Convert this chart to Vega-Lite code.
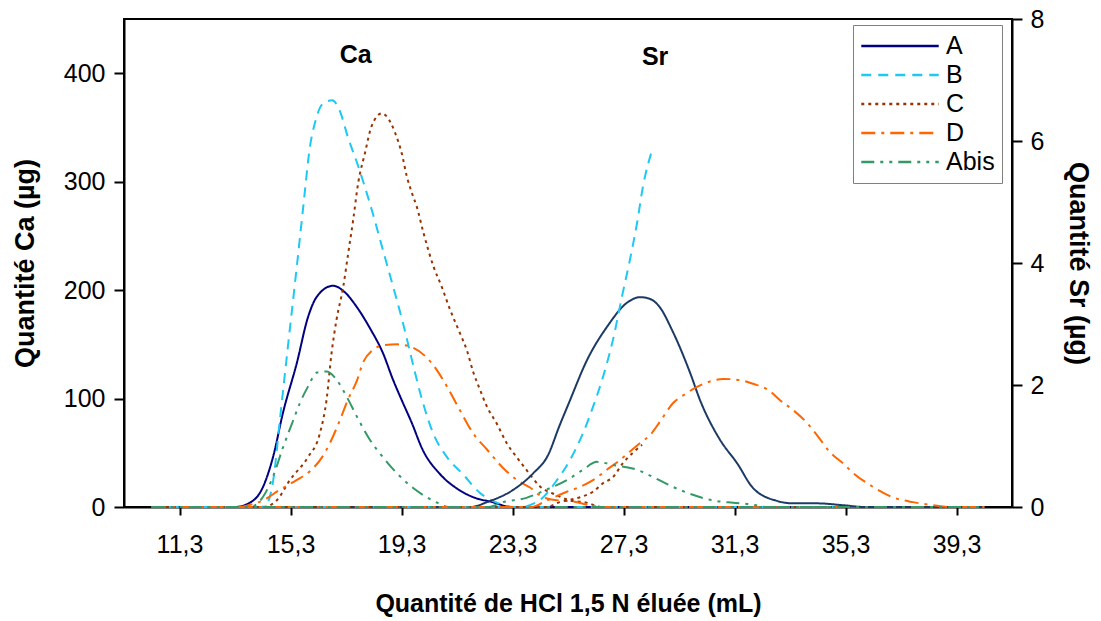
{
  "$schema": "https://vega.github.io/schema/vega-lite/v6.json",
  "width": 888,
  "height": 488,
  "autosize": {"type": "none"},
  "padding": {"left": 124, "top": 19, "right": 89, "bottom": 114},
  "background": "white",
  "config": {
    "view": {"stroke": "#000", "strokeWidth": 2},
    "font": "Liberation Sans",
    "axis": {
      "labelFont": "Liberation Sans",
      "labelFontSize": 25,
      "labelColor": "#000",
      "titleColor": "#000",
      "titleFont": "Liberation Sans",
      "titleFontWeight": "bold",
      "tickColor": "#000",
      "tickWidth": 2,
      "domainColor": "#000",
      "domainWidth": 2,
      "grid": false
    }
  },
  "datasets": {
    "curves": [
      {"s": "A", "e": "Ca", "x": 10.3, "v": 0}, {"s": "A", "e": "Ca", "x": 13.3, "v": 0}, {"s": "A", "e": "Ca", "x": 13.84, "v": 4}, {"s": "A", "e": "Ca", "x": 14.3, "v": 18}, {"s": "A", "e": "Ca", "x": 14.67, "v": 46}, {"s": "A", "e": "Ca", "x": 15.03, "v": 87}, {"s": "A", "e": "Ca", "x": 15.53, "v": 133}, {"s": "A", "e": "Ca", "x": 15.93, "v": 175}, {"s": "A", "e": "Ca", "x": 16.25, "v": 194}, {"s": "A", "e": "Ca", "x": 16.83, "v": 204}, {"s": "A", "e": "Ca", "x": 17.26, "v": 198}, {"s": "A", "e": "Ca", "x": 17.7, "v": 184}, {"s": "A", "e": "Ca", "x": 18.16, "v": 165}, {"s": "A", "e": "Ca", "x": 18.63, "v": 142}, {"s": "A", "e": "Ca", "x": 19.0, "v": 117}, {"s": "A", "e": "Ca", "x": 19.3, "v": 99}, {"s": "A", "e": "Ca", "x": 19.68, "v": 77}, {"s": "A", "e": "Ca", "x": 20.04, "v": 54}, {"s": "A", "e": "Ca", "x": 20.7, "v": 30}, {"s": "A", "e": "Ca", "x": 21.3, "v": 17}, {"s": "A", "e": "Ca", "x": 22.0, "v": 8}, {"s": "A", "e": "Ca", "x": 22.5, "v": 5}, {"s": "A", "e": "Ca", "x": 23.3, "v": 0}, {"s": "A", "e": "Ca", "x": 40.3, "v": 0},
      {"s": "B", "e": "Ca", "x": 10.3, "v": 0}, {"s": "B", "e": "Ca", "x": 14.2, "v": 0}, {"s": "B", "e": "Ca", "x": 14.44, "v": 3}, {"s": "B", "e": "Ca", "x": 14.68, "v": 25}, {"s": "B", "e": "Ca", "x": 14.92, "v": 81}, {"s": "B", "e": "Ca", "x": 15.22, "v": 151}, {"s": "B", "e": "Ca", "x": 15.52, "v": 220}, {"s": "B", "e": "Ca", "x": 15.76, "v": 277}, {"s": "B", "e": "Ca", "x": 16.0, "v": 332}, {"s": "B", "e": "Ca", "x": 16.2, "v": 356}, {"s": "B", "e": "Ca", "x": 16.47, "v": 372}, {"s": "B", "e": "Ca", "x": 16.8, "v": 375}, {"s": "B", "e": "Ca", "x": 17.08, "v": 365}, {"s": "B", "e": "Ca", "x": 17.37, "v": 341}, {"s": "B", "e": "Ca", "x": 17.73, "v": 315}, {"s": "B", "e": "Ca", "x": 18.16, "v": 280}, {"s": "B", "e": "Ca", "x": 18.63, "v": 237}, {"s": "B", "e": "Ca", "x": 19.0, "v": 203}, {"s": "B", "e": "Ca", "x": 19.35, "v": 170}, {"s": "B", "e": "Ca", "x": 19.7, "v": 133}, {"s": "B", "e": "Ca", "x": 20.04, "v": 99}, {"s": "B", "e": "Ca", "x": 20.44, "v": 68}, {"s": "B", "e": "Ca", "x": 20.94, "v": 46}, {"s": "B", "e": "Ca", "x": 21.52, "v": 30}, {"s": "B", "e": "Ca", "x": 22.13, "v": 13}, {"s": "B", "e": "Ca", "x": 22.74, "v": 4}, {"s": "B", "e": "Ca", "x": 23.3, "v": 0}, {"s": "B", "e": "Ca", "x": 40.3, "v": 0},
      {"s": "C", "e": "Ca", "x": 10.3, "v": 0}, {"s": "C", "e": "Ca", "x": 14.3, "v": 0}, {"s": "C", "e": "Ca", "x": 14.8, "v": 6}, {"s": "C", "e": "Ca", "x": 15.28, "v": 25}, {"s": "C", "e": "Ca", "x": 15.93, "v": 46}, {"s": "C", "e": "Ca", "x": 16.36, "v": 68}, {"s": "C", "e": "Ca", "x": 16.6, "v": 99}, {"s": "C", "e": "Ca", "x": 16.78, "v": 142}, {"s": "C", "e": "Ca", "x": 16.96, "v": 173}, {"s": "C", "e": "Ca", "x": 17.2, "v": 203}, {"s": "C", "e": "Ca", "x": 17.38, "v": 234}, {"s": "C", "e": "Ca", "x": 17.56, "v": 265}, {"s": "C", "e": "Ca", "x": 17.74, "v": 299}, {"s": "C", "e": "Ca", "x": 17.98, "v": 326}, {"s": "C", "e": "Ca", "x": 18.22, "v": 351}, {"s": "C", "e": "Ca", "x": 18.59, "v": 363}, {"s": "C", "e": "Ca", "x": 18.77, "v": 360}, {"s": "C", "e": "Ca", "x": 19.07, "v": 345}, {"s": "C", "e": "Ca", "x": 19.31, "v": 326}, {"s": "C", "e": "Ca", "x": 19.49, "v": 305}, {"s": "C", "e": "Ca", "x": 19.67, "v": 290}, {"s": "C", "e": "Ca", "x": 19.85, "v": 277}, {"s": "C", "e": "Ca", "x": 20.09, "v": 253}, {"s": "C", "e": "Ca", "x": 20.45, "v": 222}, {"s": "C", "e": "Ca", "x": 20.75, "v": 203}, {"s": "C", "e": "Ca", "x": 21.05, "v": 182}, {"s": "C", "e": "Ca", "x": 21.41, "v": 160}, {"s": "C", "e": "Ca", "x": 21.65, "v": 145}, {"s": "C", "e": "Ca", "x": 21.89, "v": 124}, {"s": "C", "e": "Ca", "x": 22.13, "v": 108}, {"s": "C", "e": "Ca", "x": 22.37, "v": 93}, {"s": "C", "e": "Ca", "x": 22.73, "v": 77}, {"s": "C", "e": "Ca", "x": 23.09, "v": 59}, {"s": "C", "e": "Ca", "x": 23.45, "v": 46}, {"s": "C", "e": "Ca", "x": 23.81, "v": 34}, {"s": "C", "e": "Ca", "x": 24.29, "v": 19}, {"s": "C", "e": "Ca", "x": 24.89, "v": 11}, {"s": "C", "e": "Ca", "x": 25.37, "v": 6}, {"s": "C", "e": "Ca", "x": 25.97, "v": 4}, {"s": "C", "e": "Ca", "x": 26.5, "v": 0}, {"s": "C", "e": "Ca", "x": 40.3, "v": 0},
      {"s": "D", "e": "Ca", "x": 10.3, "v": 0}, {"s": "D", "e": "Ca", "x": 13.5, "v": 0}, {"s": "D", "e": "Ca", "x": 13.84, "v": 2}, {"s": "D", "e": "Ca", "x": 14.3, "v": 6}, {"s": "D", "e": "Ca", "x": 14.92, "v": 16}, {"s": "D", "e": "Ca", "x": 15.53, "v": 25}, {"s": "D", "e": "Ca", "x": 16.0, "v": 33}, {"s": "D", "e": "Ca", "x": 16.44, "v": 46}, {"s": "D", "e": "Ca", "x": 16.72, "v": 59}, {"s": "D", "e": "Ca", "x": 17.08, "v": 80}, {"s": "D", "e": "Ca", "x": 17.37, "v": 99}, {"s": "D", "e": "Ca", "x": 17.7, "v": 117}, {"s": "D", "e": "Ca", "x": 17.91, "v": 133}, {"s": "D", "e": "Ca", "x": 18.27, "v": 145}, {"s": "D", "e": "Ca", "x": 18.63, "v": 149}, {"s": "D", "e": "Ca", "x": 19.14, "v": 150}, {"s": "D", "e": "Ca", "x": 19.6, "v": 148}, {"s": "D", "e": "Ca", "x": 20.2, "v": 138}, {"s": "D", "e": "Ca", "x": 20.58, "v": 126}, {"s": "D", "e": "Ca", "x": 20.94, "v": 111}, {"s": "D", "e": "Ca", "x": 21.41, "v": 89}, {"s": "D", "e": "Ca", "x": 21.88, "v": 68}, {"s": "D", "e": "Ca", "x": 22.38, "v": 53}, {"s": "D", "e": "Ca", "x": 22.96, "v": 36}, {"s": "D", "e": "Ca", "x": 23.46, "v": 25}, {"s": "D", "e": "Ca", "x": 23.93, "v": 18}, {"s": "D", "e": "Ca", "x": 24.4, "v": 9}, {"s": "D", "e": "Ca", "x": 25.0, "v": 6}, {"s": "D", "e": "Ca", "x": 25.5, "v": 5}, {"s": "D", "e": "Ca", "x": 26.0, "v": 2}, {"s": "D", "e": "Ca", "x": 26.5, "v": 0}, {"s": "D", "e": "Ca", "x": 40.3, "v": 0},
      {"s": "Abis", "e": "Ca", "x": 10.3, "v": 0}, {"s": "Abis", "e": "Ca", "x": 13.84, "v": 0}, {"s": "Abis", "e": "Ca", "x": 14.3, "v": 9}, {"s": "Abis", "e": "Ca", "x": 14.67, "v": 28}, {"s": "Abis", "e": "Ca", "x": 15.03, "v": 55}, {"s": "Abis", "e": "Ca", "x": 15.4, "v": 80}, {"s": "Abis", "e": "Ca", "x": 15.64, "v": 96}, {"s": "Abis", "e": "Ca", "x": 15.93, "v": 111}, {"s": "Abis", "e": "Ca", "x": 16.25, "v": 124}, {"s": "Abis", "e": "Ca", "x": 16.61, "v": 125}, {"s": "Abis", "e": "Ca", "x": 16.97, "v": 117}, {"s": "Abis", "e": "Ca", "x": 17.34, "v": 101}, {"s": "Abis", "e": "Ca", "x": 17.7, "v": 83}, {"s": "Abis", "e": "Ca", "x": 18.16, "v": 62}, {"s": "Abis", "e": "Ca", "x": 18.63, "v": 46}, {"s": "Abis", "e": "Ca", "x": 19.14, "v": 31}, {"s": "Abis", "e": "Ca", "x": 19.6, "v": 20}, {"s": "Abis", "e": "Ca", "x": 20.08, "v": 11}, {"s": "Abis", "e": "Ca", "x": 20.58, "v": 4}, {"s": "Abis", "e": "Ca", "x": 21.0, "v": 0}, {"s": "Abis", "e": "Ca", "x": 40.3, "v": 0},
      {"s": "A", "e": "Sr", "x": 10.3, "v": 0}, {"s": "A", "e": "Sr", "x": 21.8, "v": 0}, {"s": "A", "e": "Sr", "x": 22.38, "v": 0.08}, {"s": "A", "e": "Sr", "x": 23.32, "v": 0.28}, {"s": "A", "e": "Sr", "x": 24.04, "v": 0.55}, {"s": "A", "e": "Sr", "x": 24.58, "v": 0.85}, {"s": "A", "e": "Sr", "x": 25.0, "v": 1.34}, {"s": "A", "e": "Sr", "x": 25.3, "v": 1.67}, {"s": "A", "e": "Sr", "x": 26.02, "v": 2.44}, {"s": "A", "e": "Sr", "x": 26.7, "v": 2.95}, {"s": "A", "e": "Sr", "x": 27.46, "v": 3.36}, {"s": "A", "e": "Sr", "x": 27.9, "v": 3.44}, {"s": "A", "e": "Sr", "x": 28.26, "v": 3.41}, {"s": "A", "e": "Sr", "x": 28.6, "v": 3.28}, {"s": "A", "e": "Sr", "x": 29.05, "v": 2.9}, {"s": "A", "e": "Sr", "x": 29.7, "v": 2.2}, {"s": "A", "e": "Sr", "x": 30.06, "v": 1.75}, {"s": "A", "e": "Sr", "x": 30.78, "v": 1.1}, {"s": "A", "e": "Sr", "x": 31.39, "v": 0.72}, {"s": "A", "e": "Sr", "x": 31.97, "v": 0.31}, {"s": "A", "e": "Sr", "x": 32.83, "v": 0.1}, {"s": "A", "e": "Sr", "x": 33.4, "v": 0.06}, {"s": "A", "e": "Sr", "x": 34.27, "v": 0.06}, {"s": "A", "e": "Sr", "x": 35.2, "v": 0.03}, {"s": "A", "e": "Sr", "x": 36.0, "v": 0}, {"s": "A", "e": "Sr", "x": 40.3, "v": 0},
      {"s": "B", "e": "Sr", "x": 10.3, "v": 0}, {"s": "B", "e": "Sr", "x": 23.57, "v": 0}, {"s": "B", "e": "Sr", "x": 24.3, "v": 0.12}, {"s": "B", "e": "Sr", "x": 24.9, "v": 0.44}, {"s": "B", "e": "Sr", "x": 25.37, "v": 0.77}, {"s": "B", "e": "Sr", "x": 25.84, "v": 1.21}, {"s": "B", "e": "Sr", "x": 26.2, "v": 1.64}, {"s": "B", "e": "Sr", "x": 26.56, "v": 2.13}, {"s": "B", "e": "Sr", "x": 26.92, "v": 2.74}, {"s": "B", "e": "Sr", "x": 27.24, "v": 3.44}, {"s": "B", "e": "Sr", "x": 27.53, "v": 4.05}, {"s": "B", "e": "Sr", "x": 27.79, "v": 4.66}, {"s": "B", "e": "Sr", "x": 28.0, "v": 5.25}, {"s": "B", "e": "Sr", "x": 28.33, "v": 5.85},
      {"s": "C", "e": "Sr", "x": 10.3, "v": 0}, {"s": "C", "e": "Sr", "x": 24.5, "v": 0}, {"s": "C", "e": "Sr", "x": 25.0, "v": 0.08}, {"s": "C", "e": "Sr", "x": 25.73, "v": 0.16}, {"s": "C", "e": "Sr", "x": 26.2, "v": 0.25}, {"s": "C", "e": "Sr", "x": 26.56, "v": 0.39}, {"s": "C", "e": "Sr", "x": 26.92, "v": 0.49}, {"s": "C", "e": "Sr", "x": 27.28, "v": 0.72}, {"s": "C", "e": "Sr", "x": 27.64, "v": 0.89}, {"s": "C", "e": "Sr", "x": 27.97, "v": 1.02},
      {"s": "D", "e": "Sr", "x": 10.3, "v": 0}, {"s": "D", "e": "Sr", "x": 24.0, "v": 0}, {"s": "D", "e": "Sr", "x": 24.5, "v": 0.1}, {"s": "D", "e": "Sr", "x": 25.26, "v": 0.25}, {"s": "D", "e": "Sr", "x": 25.73, "v": 0.33}, {"s": "D", "e": "Sr", "x": 26.2, "v": 0.44}, {"s": "D", "e": "Sr", "x": 26.7, "v": 0.61}, {"s": "D", "e": "Sr", "x": 27.17, "v": 0.77}, {"s": "D", "e": "Sr", "x": 27.9, "v": 1.05}, {"s": "D", "e": "Sr", "x": 28.26, "v": 1.18}, {"s": "D", "e": "Sr", "x": 28.6, "v": 1.39}, {"s": "D", "e": "Sr", "x": 29.08, "v": 1.7}, {"s": "D", "e": "Sr", "x": 29.59, "v": 1.87}, {"s": "D", "e": "Sr", "x": 29.95, "v": 1.97}, {"s": "D", "e": "Sr", "x": 30.5, "v": 2.07}, {"s": "D", "e": "Sr", "x": 30.89, "v": 2.1}, {"s": "D", "e": "Sr", "x": 31.5, "v": 2.08}, {"s": "D", "e": "Sr", "x": 31.97, "v": 2.02}, {"s": "D", "e": "Sr", "x": 32.58, "v": 1.9}, {"s": "D", "e": "Sr", "x": 32.94, "v": 1.75}, {"s": "D", "e": "Sr", "x": 33.41, "v": 1.59}, {"s": "D", "e": "Sr", "x": 33.91, "v": 1.38}, {"s": "D", "e": "Sr", "x": 34.27, "v": 1.18}, {"s": "D", "e": "Sr", "x": 34.74, "v": 0.9}, {"s": "D", "e": "Sr", "x": 35.2, "v": 0.72}, {"s": "D", "e": "Sr", "x": 35.57, "v": 0.56}, {"s": "D", "e": "Sr", "x": 36.29, "v": 0.33}, {"s": "D", "e": "Sr", "x": 37.0, "v": 0.16}, {"s": "D", "e": "Sr", "x": 37.73, "v": 0.08}, {"s": "D", "e": "Sr", "x": 38.45, "v": 0.03}, {"s": "D", "e": "Sr", "x": 39.0, "v": 0}, {"s": "D", "e": "Sr", "x": 40.3, "v": 0},
      {"s": "Abis", "e": "Sr", "x": 10.3, "v": 0}, {"s": "Abis", "e": "Sr", "x": 22.4, "v": 0}, {"s": "Abis", "e": "Sr", "x": 22.96, "v": 0.08}, {"s": "Abis", "e": "Sr", "x": 23.8, "v": 0.15}, {"s": "Abis", "e": "Sr", "x": 24.5, "v": 0.28}, {"s": "Abis", "e": "Sr", "x": 25.26, "v": 0.44}, {"s": "Abis", "e": "Sr", "x": 25.84, "v": 0.61}, {"s": "Abis", "e": "Sr", "x": 26.34, "v": 0.74}, {"s": "Abis", "e": "Sr", "x": 26.92, "v": 0.69}, {"s": "Abis", "e": "Sr", "x": 27.79, "v": 0.61}, {"s": "Abis", "e": "Sr", "x": 28.37, "v": 0.49}, {"s": "Abis", "e": "Sr", "x": 29.08, "v": 0.33}, {"s": "Abis", "e": "Sr", "x": 29.8, "v": 0.2}, {"s": "Abis", "e": "Sr", "x": 30.5, "v": 0.11}, {"s": "Abis", "e": "Sr", "x": 31.25, "v": 0.07}, {"s": "Abis", "e": "Sr", "x": 31.8, "v": 0.05}, {"s": "Abis", "e": "Sr", "x": 32.5, "v": 0}, {"s": "Abis", "e": "Sr", "x": 40.3, "v": 0}
    ]
  },
  "layer": [
    {
      "layer": [
        {
          "data": {"name": "curves"},
          "transform": [{"filter": "datum.e === 'Ca'"}],
          "mark": {"type": "line", "strokeWidth": 2, "interpolate": "monotone"},
          "encoding": {
            "x": {
              "field": "x", "type": "quantitative",
              "scale": {"domain": [9.3, 41.3], "nice": false, "zero": false},
              "axis": {
                "values": [11.3, 15.3, 19.3, 23.3, 27.3, 31.3, 35.3, 39.3],
                "labelExpr": "replace(format(datum.value, '.1f'), '.', ',')",
                "tickSize": 8, "labelPadding": 17,
                "title": "Quantité de HCl 1,5 N éluée (mL)",
                "titleFontSize": 25, "titlePadding": 34
              }
            },
            "y": {
              "field": "v", "type": "quantitative",
              "scale": {"domain": [0, 450], "nice": false},
              "axis": {
                "values": [0, 100, 200, 300, 400],
                "tickSize": 10, "labelPadding": 9,
                "title": "Quantité Ca (µg)",
                "titleFontSize": 27, "titlePadding": 24
              }
            },
            "color": {
              "field": "s", "type": "nominal",
              "scale": {"domain": ["A", "B", "C", "D", "Abis"], "range": ["#000080", "#1EC8F5", "#993300", "#FF6600", "#339966"]},
              "legend": {
                "title": null, "orient": "none", "legendX": 729, "legendY": 6,
                "symbolType": "stroke", "symbolSize": 6000, "symbolStrokeWidth": 2.5, "clipHeight": 28,
                "labelFontSize": 25, "labelFont": "Liberation Sans", "labelColor": "#000",
                "strokeColor": "#808080", "fillColor": "white", "padding": 7, "rowPadding": 1, "labelOffset": 6
              }
            },
            "strokeDash": {
              "field": "s", "type": "nominal",
              "scale": {"domain": ["A", "B", "C", "D", "Abis"], "range": [[1, 0], [10, 7], [3, 4], [14, 6, 3, 6], [13, 6, 3, 6, 3, 6]]},
              "legend": {
                "title": null, "orient": "none", "legendX": 729, "legendY": 6,
                "symbolType": "stroke", "symbolSize": 6000, "symbolStrokeWidth": 2.5, "clipHeight": 28,
                "labelFontSize": 25, "labelFont": "Liberation Sans", "labelColor": "#000",
                "strokeColor": "#808080", "fillColor": "white", "padding": 7, "rowPadding": 1, "labelOffset": 6
              }
            }
          }
        },
        {
          "data": {"values": [{"t": "Ca", "x": 17.65, "y": 417}, {"t": "Sr", "x": 28.44, "y": 415}]},
          "mark": {"type": "text", "fontWeight": "bold", "fontSize": 25, "font": "Liberation Sans", "color": "#000"},
          "encoding": {
            "x": {"field": "x", "type": "quantitative", "scale": {"domain": [9.3, 41.3], "nice": false, "zero": false}},
            "y": {"field": "y", "type": "quantitative", "scale": {"domain": [0, 450], "nice": false}},
            "text": {"field": "t"}
          }
        }
      ]
    },
    {
      "data": {"name": "curves"},
      "transform": [{"filter": "datum.e === 'Sr'"}],
      "mark": {"type": "line", "strokeWidth": 2, "interpolate": "monotone"},
      "encoding": {
        "x": {
          "field": "x", "type": "quantitative",
          "scale": {"domain": [9.3, 41.3], "nice": false, "zero": false},
          "axis": {
            "values": [11.3, 15.3, 19.3, 23.3, 27.3, 31.3, 35.3, 39.3],
            "labelExpr": "replace(format(datum.value, '.1f'), '.', ',')",
            "tickSize": 8, "labelPadding": 17,
            "title": "Quantité de HCl 1,5 N éluée (mL)",
            "titleFontSize": 25, "titlePadding": 34
          }
        },
        "y": {
          "field": "v", "type": "quantitative",
          "scale": {"domain": [0, 8], "nice": false},
          "axis": {
            "orient": "right", "values": [0, 2, 4, 6, 8],
            "tickSize": 10, "labelPadding": 8,
            "title": "Quantité Sr (µg)",
            "titleFontSize": 27, "titlePadding": 20
          }
        },
        "color": {
          "field": "s", "type": "nominal",
          "scale": {"domain": ["A", "B", "C", "D", "Abis"], "range": ["#1B3A66", "#1EC8F5", "#993300", "#FF6600", "#339966"]},
          "legend": null
        },
        "strokeDash": {
          "field": "s", "type": "nominal",
          "scale": {"domain": ["A", "B", "C", "D", "Abis"], "range": [[1, 0], [10, 7], [3, 4], [14, 6, 3, 6], [13, 6, 3, 6, 3, 6]]},
          "legend": null
        }
      }
    }
  ],
  "resolve": {"scale": {"y": "independent", "color": "independent", "strokeDash": "independent"}}
}
